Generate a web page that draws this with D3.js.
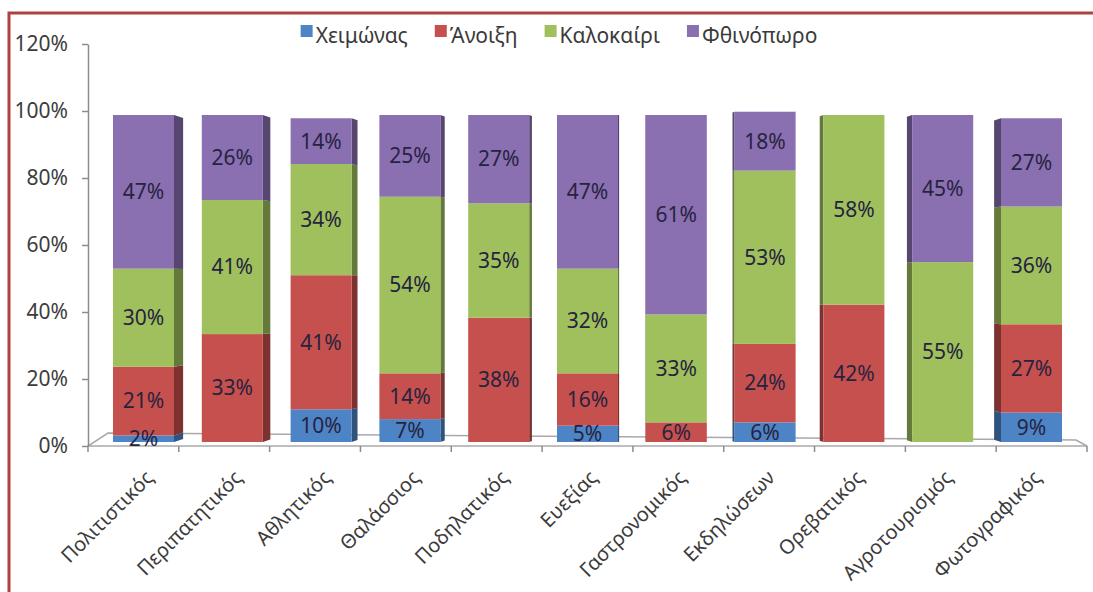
<!DOCTYPE html>
<html><head><meta charset="utf-8">
<script src="https://cdn.jsdelivr.net/npm/d3@7"></script>
<style>
html,body{margin:0;padding:0;background:#fff;}
svg{display:block;font-family:"Noto Sans",sans-serif;}
</style></head>
<body>
<svg id="chart" width="1093" height="592"></svg>
<script>
const categories = ["Πολιτιστικός","Περιπατητικός","Αθλητικός","Θαλάσσιος","Ποδηλατικός","Ευεξίας","Γαστρονομικός","Εκδηλώσεων","Ορεβατικός","Αγροτουρισμός","Φωτογραφικός"];
const seriesNames = ["Χειμώνας","Άνοιξη","Καλοκαίρι","Φθινόπωρο"];
const winter = [2,0,10,7,0,5,0,6,0,0,9];
const spring = [21,33,41,14,38,16,6,24,42,0,27];
const summer = [30,41,34,54,35,32,33,53,58,55,36];
const autumn = [47,26,14,25,27,47,61,18,0,45,27];
const yTicks = [0,0.2,0.4,0.6,0.8,1.0,1.2];
const colors = ["#4d84c6","#c6504d","#9fc05c","#8a6fb1"];

const svg = d3.select("#chart");
const series = [winter, spring, summer, autumn];
const table = categories.map((c,i)=>{const o={cat:c}; seriesNames.forEach((s,k)=>o[s]=series[k][i]); return o;});
const stacked = d3.stack().keys(seriesNames)(table);

// frame
svg.append("path").attr("d","M9,592 L9,13 L1093,13").attr("fill","none")
  .attr("stroke","#b1413f").attr("stroke-width",3);

// scales
const yAxisScale = d3.scaleLinear().domain([0,1.2]).range([446,44]);
const yBar = d3.scaleLinear().domain([0,100]).range([442,115]);
const x = d3.scaleBand().domain(categories).range([99.1,1075.9]).paddingInner(0.313).paddingOuter(0.1565);
const floorX = d3.scaleBand().domain(categories).range([88,1087]);

// floor
const floor = svg.append("g");
floor.append("path")
  .attr("d",`M${floorX.range()[0]},446 L${floorX.range()[1]},446 L1076,440 L108,433 Z`)
  .attr("fill","none").attr("stroke","#a9a9a9").attr("stroke-width",1.5);
const xTickPos = categories.map(c=>floorX(c)).concat([floorX.range()[1]]);
floor.selectAll("line.xt").data(xTickPos).join("line")
  .attr("x1",d=>d).attr("x2",d=>d).attr("y1",446).attr("y2",452)
  .attr("stroke","#8c8c8c").attr("stroke-width",1.5);

// y axis
const yAxis = d3.axisLeft(yAxisScale).tickValues(yTicks).tickFormat(d3.format(".0%")).tickSize(6).tickSizeOuter(0).tickPadding(14);
const ya = svg.append("g").attr("transform","translate(88,0)").call(yAxis);
ya.select(".domain").attr("stroke","#8c8c8c").attr("stroke-width",1.5);
ya.selectAll(".tick line").attr("stroke","#8c8c8c").attr("stroke-width",1.5);
ya.selectAll(".tick text").attr("font-size",21).attr("fill","#3c3c3c").attr("font-family","Noto Sans");

// bars
const bw = x.bandwidth();
const midY = 280;
const barsG = svg.append("g");
stacked.forEach((layer,k)=>{
  layer.forEach((d,i)=>{
    const v = d[1]-d[0];
    if(v<=0) return;
    const x0 = x(categories[i]);
    const yTop = yBar(d[1]), yBot = yBar(d[0]);
    const sideW = (5.7 - i)*1.6;
    const kk = Math.abs(sideW)*0.002;
    const xf = sideW>0 ? x0+bw : x0;
    const xb = xf + sideW;
    barsG.append("path")
      .attr("d",`M${xf},${yTop} L${xb},${yTop+(midY-yTop)*kk} L${xb},${yBot+(midY-yBot)*kk} L${xf},${yBot} Z`)
      .attr("fill",d3.color(colors[k]).darker(1.3));
    barsG.append("rect").attr("x",x0).attr("y",yTop).attr("width",bw).attr("height",yBot-yTop)
      .attr("fill",colors[k]);
  });
});
// labels
const lblG = svg.append("g");
stacked.forEach((layer,k)=>{
  layer.forEach((d,i)=>{
    const v = d[1]-d[0];
    if(v<=0) return;
    lblG.append("text").attr("x",x(categories[i])+bw/2).attr("y",yBar((d[0]+d[1])/2))
      .attr("dy","0.35em").attr("text-anchor","middle").attr("font-size",21)
      .attr("fill","#262340").text(v+"%");
  });
});

// x labels
svg.append("g").selectAll("text").data(categories).join("text")
  .attr("transform",d=>`translate(${x(d)+bw/2+6},${474}) rotate(-45)`)
  .attr("text-anchor","end").attr("dy","0.35em").attr("font-size",20).attr("fill","#3c3c3c")
  .text(d=>d);

// legend
const leg = svg.append("g");
let cx = 0;
const items = seriesNames.map((s,k)=>{
  const g = leg.append("g");
  g.append("rect").attr("x",0).attr("y",-11).attr("width",12).attr("height",12).attr("fill",colors[k]);
  const t = g.append("text").attr("x",15).attr("y",0).attr("dy","0.33em").attr("font-size",21).attr("fill","#3a3a3a").text(s);
  const w = 15 + t.node().getComputedTextLength();
  g.attr("transform",`translate(${cx},0)`);
  cx += w + 27;
  return g;
});
const total = cx - 27;
leg.attr("transform",`translate(${559 - total/2},36)`);
</script>
</body></html>
